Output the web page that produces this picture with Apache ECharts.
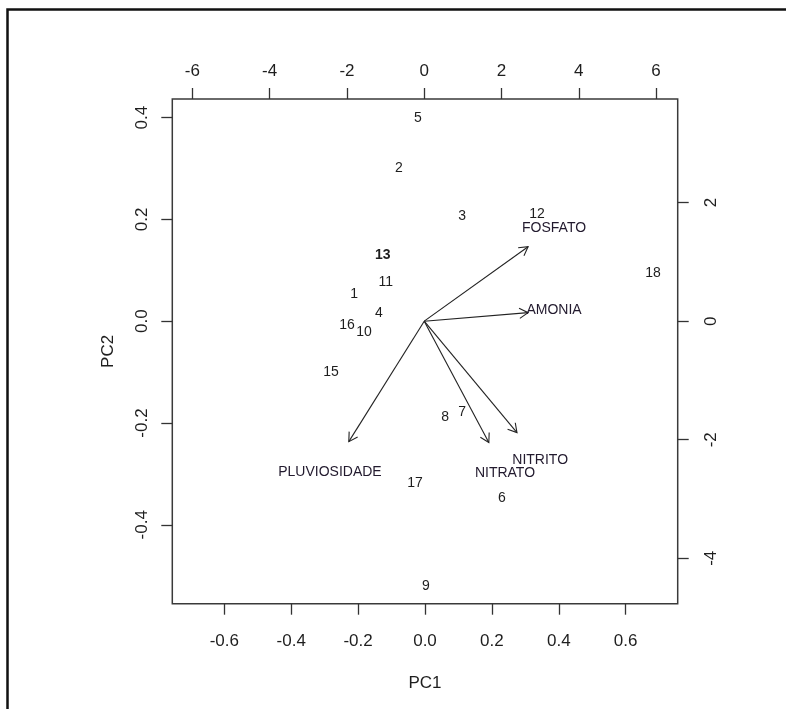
<!DOCTYPE html>
<html><head><meta charset="utf-8">
<script src="https://cdn.jsdelivr.net/npm/echarts@6/dist/echarts.min.js"></script>
<style>html,body{margin:0;padding:0;background:#fff}#c{width:786px;height:709px}</style>
</head><body><div id="c"></div>
<script>
// Observation scores (PC1, PC2)
const obsLabels = ['1','2','3','4','5','6','7','8','9','10','11','12','13','15','16','17','18'];
const pc1 = [-0.212,-0.078,0.111,-0.138,-0.021,0.230,0.111,0.060,0.003,-0.182,-0.117,0.335,-0.126,-0.281,-0.233,-0.030,0.682];
const pc2 = [0.053,0.301,0.207,0.016,0.399,-0.347,-0.178,-0.188,-0.520,-0.021,0.077,0.211,0.130,-0.100,-0.008,-0.318,0.094];
// Variable loadings (label positions on the top/right scale)
const varNames = ['FOSFATO','AMONIA','NITRITO','NITRATO','PLUVIOSIDADE'];
const load1 = [3.36,3.36,3.00,2.09,-2.44];
const load2 = [1.57,0.18,-2.35,-2.56,-2.54];
// Tick values
const pc1Ticks = [-0.6,-0.4,-0.2,0,0.2,0.4,0.6];
const pc2Ticks = [-0.4,-0.2,0,0.2,0.4];
const load1Ticks = [-6,-4,-2,0,2,4,6];
const load2Ticks = [-4,-2,0,2];

const FONT = 'Liberation Sans, Arial, sans-serif';
const AX = '#333';
const TXT = '#1e1e1e';

function axisCommon(ticks, fmt, margin, rotate) {
  return {
    type: 'value',
    axisLine: {show: false, onZero: false},
    splitLine: {show: false},
    axisTick: {show: true, customValues: ticks, length: 11, lineStyle: {color: AX, width: 1.3}},
    axisLabel: {customValues: ticks, formatter: fmt, margin: margin, rotate: rotate || 0,
      fontSize: 17, color: TXT, fontFamily: FONT}
  };
}

const chart = echarts.init(document.getElementById('c'), null, {renderer: 'canvas'});
const xb = axisCommon(pc1Ticks, v => v.toFixed(1), 29);
Object.assign(xb, {position: 'bottom', min: -0.7555, max: 0.7555, name: 'PC1', nameLocation: 'middle', nameGap: 71,
  nameTextStyle: {fontSize: 17, color: TXT, fontFamily: FONT}});
const xt = axisCommon(load1Ticks, v => String(v), 19);
Object.assign(xt, {position: 'top', min: -6.52, max: 6.56});
const yl = axisCommon(pc2Ticks, v => v.toFixed(1), 21, 90);
Object.assign(yl, {position: 'left', min: -0.555, max: 0.4365, name: 'PC2', nameLocation: 'middle', nameGap: 55,
  nameTextStyle: {fontSize: 17, color: TXT, fontFamily: FONT}});
const yr = axisCommon(load2Ticks, v => String(v), 25, 90);
Object.assign(yr, {position: 'right', min: -4.766, max: 3.748});

const option = {
  animation: false,
  backgroundColor: '#fff',
  graphic: [{type: 'rect', silent: true, z: 100,
    shape: {x: 7.5, y: 9.5, width: 820, height: 720},
    style: {fill: 'none', stroke: '#111', lineWidth: 2.5}}],
  grid: {left: 172.3, top: 99, width: 505.4, height: 504.7, show: true,
    borderColor: '#3a3a3a', borderWidth: 1.5, backgroundColor: 'transparent'},
  xAxis: [xb, xt],
  yAxis: [yl, yr],
  series: [
    {
      type: 'custom', xAxisIndex: 0, yAxisIndex: 0, silent: true, clip: false,
      data: pc1.map((x, i) => [x, pc2[i]]),
      renderItem: function (params, api) {
        const p = api.coord([api.value(0), api.value(1)]);
        const lab = obsLabels[params.dataIndex];
        return {type: 'text', x: p[0], y: p[1],
          style: {text: lab, align: 'center', verticalAlign: 'middle', fontSize: 14,
            fontWeight: lab === '13' ? 'bold' : 'normal', fill: TXT, fontFamily: FONT}};
      }
    },
    {
      type: 'custom', xAxisIndex: 1, yAxisIndex: 1, silent: true, clip: false,
      data: load1.map((x, i) => [x, load2[i]]),
      renderItem: function (params, api) {
        const lx = api.value(0), ly = api.value(1);
        const o = api.coord([0, 0]);
        const t = api.coord([lx * 0.8, ly * 0.8]);
        const l = api.coord([lx, ly]);
        const a = Math.atan2(t[1] - o[1], t[0] - o[0]);
        const len = 10, h = Math.PI / 6;
        const p1 = [t[0] - len * Math.cos(a - h), t[1] - len * Math.sin(a - h)];
        const p2 = [t[0] - len * Math.cos(a + h), t[1] - len * Math.sin(a + h)];
        const ls = {stroke: '#222', lineWidth: 1.1, fill: 'none'};
        return {type: 'group', children: [
          {type: 'line', shape: {x1: o[0], y1: o[1], x2: t[0], y2: t[1]}, style: ls},
          {type: 'polyline', shape: {points: [p1, t, p2]}, style: ls},
          {type: 'text', x: l[0], y: l[1], style: {text: varNames[params.dataIndex], align: 'center',
            verticalAlign: 'middle', fontSize: 14, fill: '#221a2e', fontFamily: FONT}}
        ]};
      }
    }
  ]
};
chart.setOption(option);
</script></body></html>
